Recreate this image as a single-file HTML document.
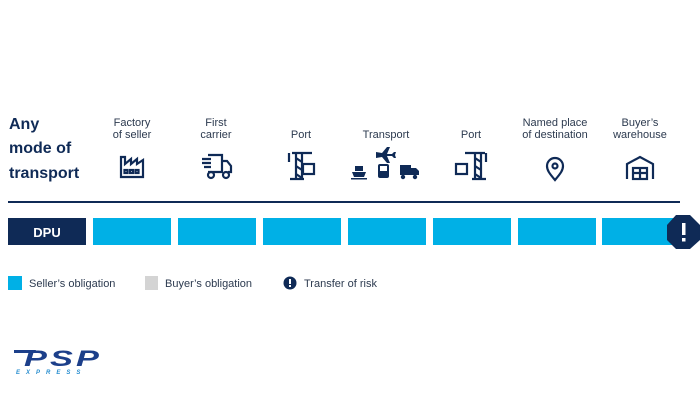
<!DOCTYPE html>
<html><head><meta charset="utf-8"><style>
body{margin:0;background:#fff;width:700px;height:400px;overflow:hidden}
svg{display:block}
text{font-family:"Liberation Sans",sans-serif}
</style></head><body>
<svg width="700" height="400" viewBox="0 0 700 400">
<rect width="700" height="400" fill="#fff"/>
<g fill="#0f2a56" font-weight="bold" font-size="16">
<text x="9" y="129">Any</text>
<text x="9" y="153">mode of</text>
<text x="9" y="178">transport</text>
</g>
<g fill="#2c3a4f" font-size="11" text-anchor="middle">
<text x="132" y="126">Factory</text><text x="132" y="138">of seller</text>
<text x="216" y="126">First</text><text x="216" y="138">carrier</text>
<text x="301" y="138">Port</text>
<text x="386" y="138">Transport</text>
<text x="471" y="138">Port</text>
<text x="555" y="126">Named place</text><text x="555" y="138">of destination</text>
<text x="640" y="126">Buyer’s</text><text x="640" y="138">warehouse</text>
</g>
<g fill="none" stroke="#0f2a56" stroke-width="2.2">
<path d="M121 177V157h4v7l6-5v5l6-5v5l6-4v17z"/>
<rect x="124.5" y="170" width="3" height="3"/><rect x="130" y="170" width="3" height="3"/><rect x="135.5" y="170" width="3" height="3"/>
<path d="M208 155h14v17h-14M222 161h5l4 5v6h-3"/><circle cx="211" cy="175" r="3"/><circle cx="226" cy="175" r="3"/>
<path d="M202 159h9M202 163h9M204 167h7"/>
<path d="M296 154v25M302 154v25M296 158l6 4M296 166l6 4M296 174l6 4M292 153h20M290 179h14M289 153v9"/>
<rect x="303" y="164" width="11" height="10"/>
<path d="M475 154v25M481 154v25M475 158l6 4M475 166l6 4M475 174l6 4M465 153h20M472 179h14M486 153v9"/>
<rect x="456" y="164" width="11" height="10"/>
<path d="M555 180c-6-7-8-10-8-14a8 8 0 0 1 16 0c0 4-2 7-8 14z"/><circle cx="555" cy="166" r="2.5"/>
<path d="M627 179v-15l13-7 13 7v15"/><rect x="633" y="168" width="14" height="11"/><path d="M633 173h14M640 168v11"/>
</g>
<g fill="#0f2a56">
<path d="M376 152l6 1 5-6h3l-3 7h5l2-2h2l-1 3 1 3h-2l-2-2h-5l3 7h-3l-5-6-6 1z"/>
<path d="M352 172h14l-2 5h-10z"/><rect x="355" y="166" width="8" height="5"/><rect x="351" y="178" width="16" height="1.5"/>
<rect x="378" y="164" width="11" height="14" rx="2"/><rect x="400" y="165" width="11" height="10"/><path d="M411 168h5l3 3v4h-8z"/><circle cx="403" cy="177" r="2.2"/><circle cx="415" cy="177" r="2.2"/>
</g>
<rect x="380" y="166" width="7" height="5" fill="#fff"/>
<rect x="8" y="201" width="672" height="2" fill="#0f2a56"/>
<rect x="8" y="218" width="78" height="27" fill="#0f2a56"/>
<text x="47" y="237" text-anchor="middle" fill="#fff" font-weight="bold" font-size="13">DPU</text>
<g fill="#00b0e6">
<rect x="93" y="218" width="78" height="27"/><rect x="178" y="218" width="78" height="27"/>
<rect x="263" y="218" width="78" height="27"/><rect x="348" y="218" width="78" height="27"/>
<rect x="433" y="218" width="78" height="27"/><rect x="518" y="218" width="78" height="27"/>
<rect x="602" y="218" width="80" height="27"/>
</g>
<polygon points="676,215 690,215 700,225 700,240 690,249 676,249 667,240 667,225" fill="#0f2a56"/>
<rect x="682" y="223" width="3.5" height="12" fill="#fff"/><rect x="682" y="238" width="3.5" height="3.5" fill="#fff"/>
<rect x="8" y="276" width="14" height="14" fill="#00b0e6"/>
<text x="29" y="287" font-size="11" fill="#2c3a4f">Seller’s obligation</text>
<rect x="145" y="276" width="13" height="14" fill="#d4d4d4"/>
<text x="165" y="287" font-size="11" fill="#2c3a4f">Buyer’s obligation</text>
<circle cx="290" cy="283" r="6.5" fill="#0f2a56"/><rect x="289" y="279" width="2" height="5" fill="#fff"/><rect x="289" y="285" width="2" height="2" fill="#fff"/>
<text x="304" y="287" font-size="11" fill="#2c3a4f">Transfer of risk</text>
<text x="24" y="366" font-size="22" font-weight="bold" font-style="italic" fill="#1c3f8a" letter-spacing="2" textLength="78" lengthAdjust="spacingAndGlyphs">PSP</text>
<path d="M14 350h22l-2 3H14z" fill="#1c3f8a"/>
<text x="16" y="374" font-size="6" font-weight="bold" font-style="italic" fill="#2a8fd0" letter-spacing="6">EXPRESS</text>
</svg>
</body></html>
